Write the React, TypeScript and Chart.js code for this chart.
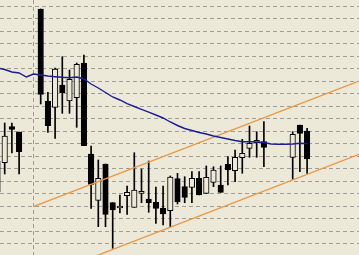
import React, { useEffect, useRef } from "react";
import { Chart, registerables } from "chart.js";

Chart.register(...registerables);

// Candle slots start at index -1 (partially visible at the left edge).
const FIRST_INDEX = -1;

const opens: (number | null)[] = [
  161, 162.7, 126.7, 132, null, null, 9, 101, 107.3, 85, 101, 97.7, 63, 154, 200.3,
  164, 202.7, 208, 195.7, 207.3, 193.3, 199, 202.3, 208.3, 210.7, 178.7, 186.7, 187.3,
  178.3, 193.3, 182.3, 185, 164.3, 170.7, 157.7, 148.3, 142.7, 141.7, null, null, null,
  157.3, 125, 131,
];
const highs: (number | null)[] = [
  158, 123, 123, 132, null, null, 9, 92.3, 68, 56.7, 70, 63, 55, 146, 160,
  164, 202.7, 195, 186, 152.7, 169, 161, 187, 186, 176, 173.3, 176.7, 171.7,
  171.7, 166, 166.7, 166, 156.7, 150, 139.3, 126, 131.7, 121.7, null, null, null,
  131.7, 125, 128.3,
];
const lows: (number | null)[] = [
  195, 174, 153, 174, null, null, 104, 132.3, 138.3, 113.3, 113.3, 127.3, 145.7, 208.3, 226.7,
  226.7, 248.3, 213, 214.3, 207.3, 202.7, 212.3, 223.3, 225, 226.7, 204, 202.7, 202.7,
  195, 193.3, 186.7, 192.3, 185, 181.7, 173.3, 157.3, 157.3, 166.7, null, null, null,
  179.3, 171.7, 173.3,
];
const closes: (number | null)[] = [
  192, 136, 129.3, 151.7, null, null, 94.3, 125.7, 69, 92.7, 79.3, 64.3, 145.7, 184.3, 178.3,
  214.3, 210, 206, 192.3, 190, 191.3, 202.7, 208.3, 214, 177, 202, 197.3, 178.3,
  195, 177.3, 170, 192.3, 170, 157.3, 153.3, 143.3, 140.3, 147.3, null, null, null,
  134.3, 133.3, 159,
];
const movingAverage: number[] = [
  68, 69.5, 72, 73, 77, 74, 75, 76, 76.7, 77.3, 77.7, 77, 79, 84, 88, 92.5, 97, 100,
  103.7, 106.5, 109.3, 112.2, 115, 118, 122, 125.5, 128.5, 130.5, 132.5, 134, 136,
  137.5, 139, 140.5, 141.7, 141.8, 142, 142.5, 144, 144.3, 144.2, 144, 143.3, 143.5,
];
const upperChannelX = [3.97, 49.21];
const upperChannelY = [206.7, 81];
const lowerChannelX = [12.5, 49.21];
const lowerChannelY = [256.4, 154.3];

const gridLevels = [
  6.3, 18.8, 31.3, 43.8, 56.3, 68.8, 81.3, 93.8, 106.3, 118.8, 131.3, 143.8, 156.3,
  168.8, 181.3, 193.8, 206.3, 218.8, 231.3, 243.8,
];
const gridSessions = [3.97];

const X_MIN = -0.653;
const X_MAX = 49.21;
const Y_MIN = 0;
const Y_MAX = 255;

const BG = "#ECE9D8";
const GRID = "#9e9e98";

export default function App() {
  const ref = useRef<HTMLCanvasElement>(null);

  useEffect(() => {
    const candles = opens
      .map((o, k) => ({ i: k + FIRST_INDEX, o, h: highs[k], l: lows[k], c: closes[k] }))
      .filter((c) => c.o !== null && c.c !== null);
    const wicks = candles.map((c) => ({ x: c.i, y: [c.l as number, c.h as number] }));
    const bodies = candles.map((c) => ({ x: c.i, y: [c.o as number, c.c as number] }));
    const bodyColors = candles.map((c) => ((c.c as number) < (c.o as number) ? BG : "#000000"));

    const chart = new Chart(ref.current as HTMLCanvasElement, {
      type: "bar",
      data: {
        datasets: [
          {
            type: "line",
            label: "MA",
            data: movingAverage.map((v, k) => ({ x: k + FIRST_INDEX, y: v })),
            borderColor: "#1c1c96",
            borderWidth: 1.4,
            pointRadius: 0,
            tension: 0,
            order: 0,
          } as any,
          {
            type: "line",
            label: "Upper channel",
            data: upperChannelX.map((x, k) => ({ x, y: upperChannelY[k] })),
            borderColor: "#ec9640",
            borderWidth: 1.3,
            pointRadius: 0,
            order: 0,
          } as any,
          {
            type: "line",
            label: "Lower channel",
            data: lowerChannelX.map((x, k) => ({ x, y: lowerChannelY[k] })),
            borderColor: "#ec9640",
            borderWidth: 1.3,
            pointRadius: 0,
            order: 0,
          } as any,
          {
            type: "bar",
            label: "Bodies",
            data: bodies,
            backgroundColor: bodyColors,
            borderColor: "#000000",
            borderWidth: 1,
            borderSkipped: false,
            barThickness: 5.5,
            grouped: false,
            order: 1,
          } as any,
          {
            type: "bar",
            label: "Wicks",
            data: wicks,
            backgroundColor: "#000000",
            borderWidth: 0,
            barThickness: 1,
            grouped: false,
            order: 2,
          } as any,
        ],
      },
      options: {
        animation: false,
        responsive: false,
        devicePixelRatio: 1,
        layout: { padding: 0 },
        plugins: { legend: { display: false }, tooltip: { enabled: false } },
        scales: {
          x: {
            type: "linear",
            min: X_MIN,
            max: X_MAX,
            offset: false,
            bounds: "data",
            ticks: { display: false },
            grid: { color: GRID, lineWidth: 1, drawTicks: false, offset: false },
            border: { display: false, dash: [4, 3] },
            afterBuildTicks: (s: any) => {
              s.ticks = gridSessions.map((v) => ({ value: v }));
            },
          },
          y: {
            type: "linear",
            reverse: true,
            min: Y_MIN,
            max: Y_MAX,
            offset: false,
            ticks: { display: false },
            grid: { color: GRID, lineWidth: 1, drawTicks: false, offset: false },
            border: { display: false, dash: [4, 3] },
            afterBuildTicks: (s: any) => {
              s.ticks = gridLevels.map((v) => ({ value: v }));
            },
          },
        },
      } as any,
    });
    return () => chart.destroy();
  }, []);

  return (
    <div style={{ position: "absolute", left: 0, top: 0, width: 359, height: 255, background: BG, overflow: "hidden" }}>
      <canvas ref={ref} width={359} height={255} style={{ display: "block" }} />
    </div>
  );
}
